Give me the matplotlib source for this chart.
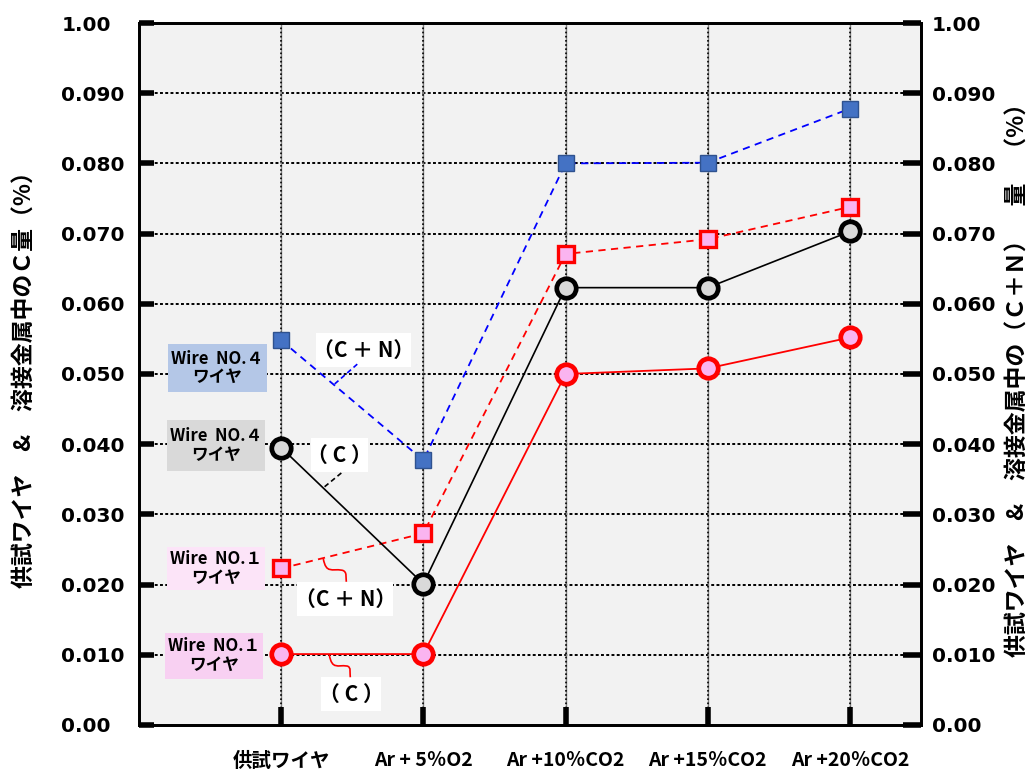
import matplotlib
matplotlib.use("Agg")
import matplotlib.pyplot as plt
from matplotlib.patches import Rectangle, PathPatch
from matplotlib.path import Path

plt.rcParams["font.family"] = ["DejaVu Sans", "Noto Sans CJK JP"]
JP = ["Noto Sans CJK JP", "DejaVu Sans"]

# shielding gas conditions (first column is the wire itself)
categories = ["供試ワイヤ", "Ar + 5％O2", "Ar +10％CO2", "Ar +15％CO2", "Ar +20％CO2"]

# Wire NO.4
no4_cn = [0.0548, 0.0377, 0.0800, 0.0801, 0.0878]
no4_c = [0.0395, 0.0201, 0.0623, 0.0623, 0.0703]
# Wire NO.1
no1_cn = [0.0223, 0.0273, 0.0671, 0.0692, 0.0738]
no1_c = [0.0101, 0.0101, 0.0500, 0.0508, 0.0552]

ytick_vals = [0.0, 0.01, 0.02, 0.03, 0.04, 0.05, 0.06, 0.07, 0.08, 0.09, 0.10]
ytick_labels = ["0.00", "0.010", "0.020", "0.030", "0.040", "0.050",
                "0.060", "0.070", "0.080", "0.090", "1.00"]

left_label = "供試ワイヤ　&　溶接金属中のＣ量（%）"
right_label = "供試ワイヤ　&　溶接金属中の（Ｃ＋Ｎ）　量　（%）"

fig = plt.figure(figsize=(10.35, 7.72), dpi=100)
ax = fig.add_axes([0.1343, 0.0609, 0.7556, 0.9093])
ax.set_facecolor("#F2F2F2")
xs = list(range(len(categories)))
ax.set_xlim(-1, 4.5)
ax.set_ylim(0, 0.10)

# grid: dotted horizontals, grey/black verticals at each condition
for v in ytick_vals[1:-1]:
    ax.axhline(v, color="black", lw=1.4, ls=(0, (1.5, 1.2)), zorder=1)
ax.vlines(xs, 0, 0.10, color="#808080", lw=1.0, zorder=1)
ax.vlines(xs, 0, 0.10, color="black", lw=1.2, ls=(0, (1, 1.5)), zorder=1)

for s in ax.spines.values():
    s.set_linewidth(2.0)
    s.set_color("black")

ax.set_xticks(xs)
ax.set_xticklabels(categories, family=JP, fontweight="bold", fontsize=14)
ax.tick_params(axis="x", direction="in", length=13, width=4, pad=19)

ax.set_yticks(ytick_vals)
ax.set_yticklabels(ytick_labels, fontweight="bold", fontsize=14.5)
ax.tick_params(axis="y", direction="in", length=11, width=4, pad=56)
for t in ax.get_yticklabels():
    t.set_horizontalalignment("left")

ax2 = ax.twinx()
ax2.set_ylim(0, 0.10)
ax2.set_yticks(ytick_vals)
ax2.set_yticklabels(ytick_labels, fontweight="bold", fontsize=14.5)
ax2.tick_params(axis="y", direction="in", length=13, width=4, pad=8)
for s in ax2.spines.values():
    s.set_linewidth(2.0)

fig.text(0.024, 0.515, left_label, rotation=90, ha="center", va="center",
         family=JP, fontsize=16.5, fontweight="bold")
fig.text(0.984, 0.515, right_label, rotation=90, ha="center", va="center",
         family=JP, fontsize=16.5, fontweight="bold")

# series
ax.plot(xs, no4_cn, color="#0000FF", lw=1.3, ls=(0, (4, 3)), marker="s",
        ms=12, mfc="#4472C4", mec="#2F528F", mew=1.0, zorder=5)
ax.plot(xs, no1_cn, color="#FF0000", lw=1.3, ls=(0, (4, 3)), marker="s",
        ms=12, mfc="#FAB4F0", mec="#FF0000", mew=2.4, zorder=5)
ax.plot(xs, no4_c, color="black", lw=1.2, marker="o",
        ms=14, mfc="#D9D9D9", mec="black", mew=3.4, zorder=6)
ax.plot(xs, no1_c, color="#FF0000", lw=1.3, marker="o",
        ms=14, mfc="#FAB4F0", mec="#FF0000", mew=3.4, zorder=6)


def label_box(x0, x1, y0, y1, color, text, size=12):
    ax.add_patch(Rectangle((x0, y0), x1 - x0, y1 - y0, facecolor=color,
                           edgecolor="none", zorder=3))
    ax.text((x0 + x1) / 2, (y0 + y1) / 2, text, ha="center", va="center",
            family=JP, fontsize=size, fontweight="bold", linespacing=1.05,
            zorder=4)


label_box(-0.796, -0.099, 0.0474, 0.0543, "#B4C7E7", "Wire  NO.４\nワイヤ")
label_box(-0.803, -0.113, 0.0362, 0.0435, "#D9D9D9", "Wire  NO.４\nワイヤ")
label_box(-0.803, -0.113, 0.0192, 0.0254, "#FCE4F8", "Wire  NO.１\nワイヤ")
label_box(-0.817, -0.127, 0.0066, 0.0131, "#F8D0F2", "Wire  NO.１\nワイヤ")

label_box(0.246, 0.915, 0.0510, 0.0558, "white", "（C ＋ N）", 15)
label_box(0.211, 0.613, 0.0360, 0.0409, "white", "（ C ）", 15)
label_box(0.113, 0.789, 0.0155, 0.0204, "white", "（C ＋ N）", 15)
label_box(0.282, 0.704, 0.0020, 0.0068, "white", "（ C ）", 15)

# leader lines
ax.plot([0.535, 0.366], [0.0514, 0.0484], color="#0000FF", lw=1.2,
        ls=(0, (3, 2)), zorder=4)
ax.plot([0.423, 0.303], [0.0359, 0.0339], color="black", lw=1.2,
        ls=(0, (3, 2)), zorder=4)


def curl(x0, y0, x1, y1):
    verts = [(x0, y0), (x0 + 0.02, y0 - 0.0022), (x0 + 0.06, y0 - 0.0014),
             ((x0 + x1) / 2 + 0.05, (y0 + y1) / 2),
             (x1 + 0.01, y1 + 0.0015), (x1 - 0.005, y1 + 0.0005), (x1, y1)]
    codes = [Path.MOVETO] + [Path.CURVE4] * 6
    ax.add_patch(PathPatch(Path(verts, codes), facecolor="none",
                           edgecolor="#FF0000", lw=1.2, zorder=4))


curl(0.296, 0.0237, 0.458, 0.0204)
curl(0.338, 0.0100, 0.486, 0.0068)

fig.savefig("out.png", dpi=100)
